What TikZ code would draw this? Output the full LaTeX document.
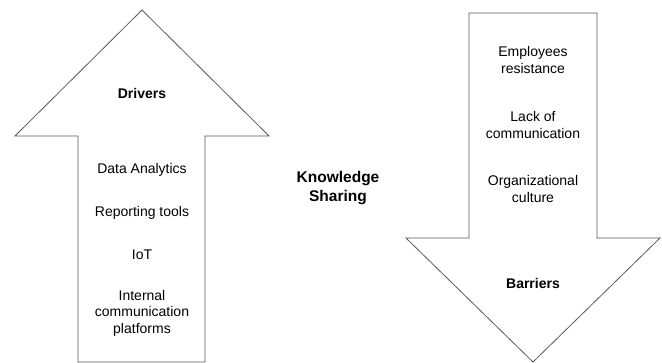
\documentclass[tikz,border=0pt]{standalone}
\usepackage{fontspec}
\setmainfont{Liberation Sans}

\begin{document}
\begin{tikzpicture}[x=1pt,y=-1pt]

\tikzstyle{outline}=[draw=black!65, line width=0.8pt, line join=miter]
\tikzstyle{item}=[align=center, font=\fontsize{14}{16.5}\selectfont]
\tikzstyle{heading}=[align=center, font=\fontsize{14}{16.5}\selectfont\bfseries]

\useasboundingbox (0,0) rectangle (662,363);

% up arrow (drivers)
\draw[outline] (142,10) -- (269,136) -- (205,136) -- (205,362)
  -- (78,362) -- (78,136) -- (15,136) -- cycle;

\node[heading] (drivers) at (142,93)  {Drivers};
\node[item] (analytics) at (142,170)  {Data Analytics};
\node[item] (reporting) at (142,213)  {Reporting tools};
\node[item] (iot) at (142,255)  {IoT};
\node[item] (platforms) at (142,313)  {Internal\\communication\\platforms};



% down arrow (barriers)
\draw[outline] (469,13) -- (597,13) -- (597,238) -- (660,238)
  -- (533,362) -- (406,238) -- (469,238) -- cycle;

\node[item] (resistance) at (533,60)  {Employees\\resistance};
\node[item] (communication) at (533,125)  {Lack of\\communication};
\node[item] (culture) at (533,189)  {Organizational\\culture};
\node[heading] (barriers) at (533,283)  {Barriers};



% centre label
\node[heading, font=\fontsize{15.5}{19}\selectfont\bfseries] (sharing) at (338,188)  {Knowledge\\Sharing};

\end{tikzpicture}
\end{document}
